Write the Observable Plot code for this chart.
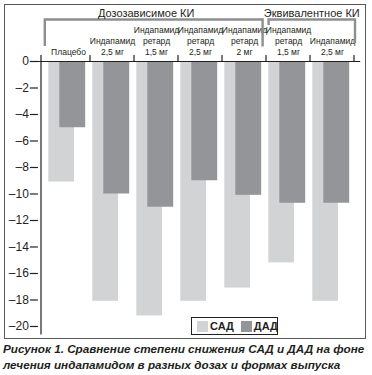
<!DOCTYPE html>
<html>
<head>
<meta charset="utf-8">
<script src="https://cdn.jsdelivr.net/npm/d3@7"></script>
<script src="https://cdn.jsdelivr.net/npm/@observablehq/plot@0.6"></script>
<style>
  html, body { margin: 0; padding: 0; background: #fff; }
  #wrap { position: relative; width: 372px; height: 375px; font-family: "Liberation Sans", Arial, sans-serif; color: #231f20; }
  #frame { position: absolute; left: 4px; top: 4px; width: 362px; height: 335px; border: 1px solid #58595b; box-sizing: border-box; pointer-events: none; }
  #chart { position: absolute; left: 0; top: 0; }
  #legend { position: absolute; left: 191px; top: 317px; width: 87px; height: 18px; border: 1px solid #231f20; box-sizing: border-box; background: #fff; display: flex; align-items: center; padding-left: 5px; font: bold 11px "Liberation Sans", Arial, sans-serif; }
  #legend .sw { display: inline-block; width: 11px; height: 11px; margin-right: 2px; }
  #legend .it { display: inline-flex; align-items: center; margin-right: 7px; }
  #caption { position: absolute; left: 3px; top: 341px; width: 369px; font: italic bold 11.7px "Liberation Sans", Arial, sans-serif; line-height: 16px; color: #231f20; white-space: nowrap; }
</style>
</head>
<body>
<div id="wrap">
  <div id="chart"></div>
  <div id="frame"></div>
  <div id="legend"></div>
  <div id="caption">Рисунок 1. Сравнение степени снижения САД и ДАД на фоне<br>лечения индапамидом в разных дозах и формах выпуска</div>
</div>
<script>
const categoryKeys = ["plac", "ind25", "ret15", "ret25", "ret2", "eq_ret15", "eq_ind25"];
const categoryLabels = ["Плацебо", "Индапамид\n2,5 мг", "Индапамид\nретард\n1,5 мг", "Индапамид\nретард\n2,5 мг", "Индапамид\nретард\n2 мг", "Индапамид\nретард\n1,5 мг", "Индапамид\n2,5 мг"];
const seriesNames = ["САД", "ДАД"];
const sadValues = [-9.1, -18.1, -19.2, -18.1, -17.1, -15.2, -18.1];
const dadValues = [-5.0, -10.0, -11.0, -9.0, -10.1, -10.7, -10.7];
const seriesColors = ["#d1d3d4", "#939598"];
const yTicks = [0, -2, -4, -6, -8, -10, -12, -14, -16, -18, -20];
const groupNames = ["Дозозависимое КИ", "Эквивалентное КИ"];
const groupFrom = [0, 5];
const groupTo = [4, 6];

const rows = categoryKeys.flatMap((k, i) => [
  {key: k, series: seriesNames[0], value: sadValues[i]},
  {key: k, series: seriesNames[1], value: dadValues[i]}
]);
const labelRows = categoryKeys.map((k, i) => ({key: k, label: categoryLabels[i]}));

const W = 372, H = 341;
const plot = Plot.plot({
  width: W,
  height: H,
  marginTop: 61,
  marginBottom: 6.4,
  marginLeft: 42.9,
  marginRight: 15.3,
  style: {fontFamily: '"Liberation Sans", Arial, sans-serif', color: "#231f20", background: "transparent"},
  x: {type: "band", domain: categoryKeys, padding: 0, axis: null},
  y: {domain: [-20.65, 0], axis: null},
  color: {domain: seriesNames, range: seriesColors},
  marks: [
    Plot.barY(rows.filter(d => d.series === seriesNames[0]), {x: "key", y: "value", fill: "series", insetLeft: 2.3, insetRight: 16}),
    Plot.barY(rows.filter(d => d.series === seriesNames[1]), {x: "key", y: "value", fill: "series", insetLeft: 13.3, insetRight: 4.8}),
    Plot.ruleY([0], {stroke: "#231f20", strokeWidth: 1.2, insetLeft: -13, insetRight: -3.5}),
    Plot.axisY({ticks: yTicks, tickSize: 8, tickPadding: 1.5, dx: -5, fontSize: 12, label: null,
      tickFormat: d => d === 0 ? "0" : "–" + Math.abs(d), stroke: "#231f20", strokeWidth: 1.2, fill: "#231f20"}),
    Plot.text(labelRows, {x: "key", y: 0, text: "label", lineAnchor: "bottom", dy: -6.5, lineHeight: 1.3, fontSize: 8.5, fill: "#231f20"})
  ]
});
document.getElementById("chart").appendChild(plot);

// Annotations derived from scales
const sx = plot.scale("x"), sy = plot.scale("y");
const bw = sx.bandwidth;
const y0 = sy.apply(0);
const svg = d3.select(plot);
const g = svg.append("g");
const x0 = sx.apply(categoryKeys[0]);
// y axis line
g.append("line").attr("x1", x0 - 5).attr("x2", x0 - 5).attr("y1", y0 - 6).attr("y2", sy.apply(-20.65))
  .attr("stroke", "#231f20").attr("stroke-width", 1.2);
// boundary ticks
categoryKeys.forEach(k => {
  const bx = sx.apply(k) + bw;
  g.append("line").attr("x1", bx).attr("x2", bx).attr("y1", y0 - 6).attr("y2", y0)
    .attr("stroke", "#231f20").attr("stroke-width", 1.2);
});
// group brackets
const bracketTop = 19.5;
const drops = [[46, 46.5], [25, 43]];
groupNames.forEach((name, gi) => {
  const left = gi === 0 ? sx.apply(categoryKeys[groupFrom[gi]]) - 1.2 : sx.apply(categoryKeys[groupFrom[gi]]) + 2.6;
  const right = gi === 0 ? sx.apply(categoryKeys[groupTo[gi]]) + bw - 3.4 : sx.apply(categoryKeys[groupTo[gi]]) + bw + 1;
  g.append("path")
    .attr("d", `M${left},${drops[gi][0]}V${bracketTop}H${right}V${drops[gi][1]}`)
    .attr("fill", "none").attr("stroke", "#8c8e90").attr("stroke-width", 2.4);
  g.append("text").attr("x", (left + right) / 2 + (gi === 0 ? -7.5 : 0)).attr("y", 17)
    .attr("text-anchor", "middle").attr("font-size", 11).attr("fill", "#231f20").text(name);
});

// legend
const legend = document.getElementById("legend");
seriesNames.forEach((s, i) => {
  const it = document.createElement("span");
  it.className = "it";
  const sw = document.createElement("span");
  sw.className = "sw";
  sw.style.background = plot.scale("color").apply(s);
  it.appendChild(sw);
  it.appendChild(document.createTextNode(s));
  legend.appendChild(it);
});
</script>
</body>
</html>
